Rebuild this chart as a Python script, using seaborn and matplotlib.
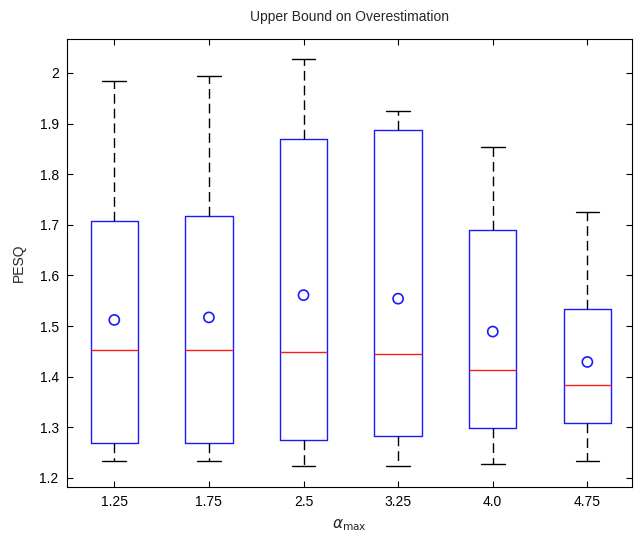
import numpy as np
import pandas as pd
import seaborn as sns
import matplotlib
matplotlib.use("Agg")
import matplotlib.pyplot as plt

categories = ["1.25", "1.75", "2.5", "3.25", "4.0", "4.75"]
whisker_low = [1.233, 1.233, 1.223, 1.223, 1.228, 1.233]
q1 = [1.269, 1.269, 1.275, 1.283, 1.298, 1.308]
median = [1.453, 1.453, 1.448, 1.445, 1.414, 1.383]
q3 = [1.707, 1.717, 1.870, 1.887, 1.690, 1.533]
whisker_high = [1.984, 1.994, 2.028, 1.925, 1.854, 1.725]
means = [1.512, 1.517, 1.561, 1.554, 1.489, 1.429]

sns.set_style("ticks")
plt.rcParams["font.family"] = ["Liberation Sans", "DejaVu Sans"]
plt.rcParams["xtick.direction"] = "in"
plt.rcParams["ytick.direction"] = "in"

# five-number rows so the box statistics equal the values
rows = []
for c, a, b, m, d, e in zip(categories, whisker_low, q1, median, q3, whisker_high):
    for v in (a, b, m, d, e):
        rows.append({"alpha": c, "PESQ": v})
df = pd.DataFrame(rows)
mean_df = pd.DataFrame({"alpha": categories, "PESQ": means})

fig = plt.figure(figsize=(6.35, 5.41), dpi=100)
ax = fig.add_axes([0.1055, 0.0998, 0.8895, 0.8282])

sns.boxplot(data=df, x="alpha", y="PESQ", order=categories, whis=(0, 100),
            width=0.5, fill=False, showfliers=False, ax=ax,
            linewidth=1.0,
            boxprops=dict(color="#1a1aff", linewidth=1.0),
            medianprops=dict(color="#ff1a1a", linewidth=1.0),
            whiskerprops=dict(color="black", linewidth=1.0, linestyle=(0, (7, 3.6))),
            capprops=dict(color="black", linewidth=1.0))

sns.stripplot(data=mean_df, x="alpha", y="PESQ", order=categories, jitter=False,
              marker="o", s=7.3, facecolor="none", edgecolor="#1a1aff",
              linewidth=1.2, ax=ax, zorder=5)

ax.set_xlim(-0.5, 5.47)
ax.set_ylim(1.182, 2.067)
ax.set_yticks([1.2, 1.3, 1.4, 1.5, 1.6, 1.7, 1.8, 1.9, 2.0])
ax.set_yticklabels(["1.2", "1.3", "1.4", "1.5", "1.6", "1.7", "1.8", "1.9", "2"])
ax.tick_params(axis="both", which="both", top=True, right=True, direction="in",
               labelsize=10, length=4, width=0.8, colors="black", pad=6)
for s in ax.spines.values():
    s.set_visible(True)
    s.set_color("black")
    s.set_linewidth(0.8)

ax.set_title("Upper Bound on Overestimation", fontsize=10, pad=13)
ax.set_xlabel(r"$\alpha_{\mathrm{max}}$", fontsize=11, labelpad=6)
ax.set_ylabel("PESQ", fontsize=10, labelpad=10)

fig.savefig("out.png", dpi=100)
